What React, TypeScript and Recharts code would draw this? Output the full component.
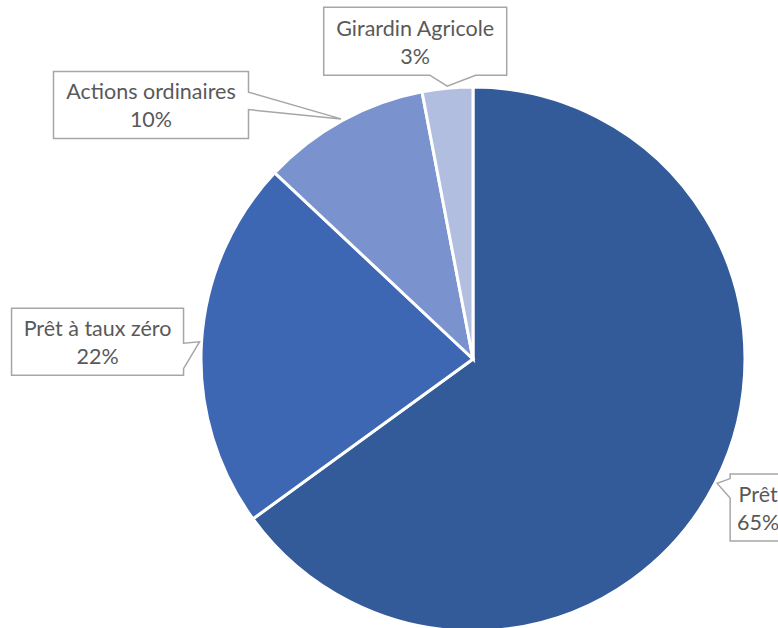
import React from "react";
import { PieChart, Pie, Cell } from "recharts";

const categories = ["Prêt", "Prêt à taux zéro", "Actions ordinaires", "Girardin Agricole"];
const shares = [65, 22, 10, 3];
const colors = ["#335A99", "#3D67B3", "#7A93CF", "#B1BEE0"];

const data = categories.map((name, i) => ({ name, value: shares[i] }));

// callout box layout: box centre relative to pointer tip, size, side of wedge, wedge base fractions
const LAYOUT = [
  { dx: 41, dy: 24, w: 56, h: 67, side: "left", f0: 0.07, f1: 0.36 },
  { dx: -102, dy: 0, w: 172, h: 67, side: "right", f0: 0.52, f1: 0.9 },
  { dx: -190, dy: -14, w: 195, h: 67, side: "right", f0: 0.31, f1: 0.57 },
  { dx: -32, dy: -45, w: 183, h: 68, side: "bottom", f0: 0.58, f1: 0.83 },
];

const RAD = Math.PI / 180;

function Callout(props: any) {
  const { cx, cy, midAngle, outerRadius, index, name, value } = props;
  const L = LAYOUT[index];
  const r = outerRadius + 2;
  const tx = cx + r * Math.cos(-midAngle * RAD);
  const ty = cy + r * Math.sin(-midAngle * RAD);
  const bcx = tx + L.dx;
  const bcy = ty + L.dy;
  const x0 = bcx - L.w / 2;
  const x1 = bcx + L.w / 2;
  const y0 = bcy - L.h / 2;
  const y1 = bcy + L.h / 2;
  let d = "";
  if (L.side === "bottom") {
    const a = x0 + L.w * L.f0;
    const b = x0 + L.w * L.f1;
    d = `M${x0},${y0} L${x1},${y0} L${x1},${y1} L${b},${y1} L${tx},${ty} L${a},${y1} L${x0},${y1} Z`;
  } else if (L.side === "right") {
    const a = y0 + L.h * L.f0;
    const b = y0 + L.h * L.f1;
    d = `M${x0},${y0} L${x1},${y0} L${x1},${a} L${tx},${ty} L${x1},${b} L${x1},${y1} L${x0},${y1} Z`;
  } else {
    const a = y0 + L.h * L.f0;
    const b = y0 + L.h * L.f1;
    d = `M${x0},${y0} L${x1},${y0} L${x1},${y1} L${x0},${y1} L${x0},${b} L${tx},${ty} L${x0},${a} Z`;
  }
  return (
    <g>
      <path d={d} fill="#FFFFFF" stroke="#A6A6A6" strokeWidth={1.5} />
      <text
        x={bcx}
        y={bcy - 5.5}
        textAnchor="middle"
        fill="#595959"
        fontFamily="Lato, 'Open Sans', sans-serif"
        fontSize={21.5}
      >
        {name}
      </text>
      <text
        x={bcx}
        y={bcy + 22.5}
        textAnchor="middle"
        fill="#595959"
        fontFamily="Lato, 'Open Sans', sans-serif"
        fontSize={21.5}
      >
        {`${value}%`}
      </text>
    </g>
  );
}

export default function App() {
  return (
    <div style={{ position: "absolute", left: 0, top: 0, width: 778, height: 628, background: "#fff" }}>
      <PieChart width={778} height={628} margin={{ top: 0, right: 0, bottom: 0, left: 0 }}>
        <Pie
          data={data}
          dataKey="value"
          nameKey="name"
          cx={473}
          cy={359}
          outerRadius={272}
          startAngle={90}
          endAngle={-270}
          stroke="#FFFFFF"
          strokeWidth={3}
          labelLine={false}
          label={Callout}
          isAnimationActive={false}
        >
          {data.map((d, i) => (
            <Cell key={d.name} fill={colors[i]} />
          ))}
        </Pie>
      </PieChart>
    </div>
  );
}
